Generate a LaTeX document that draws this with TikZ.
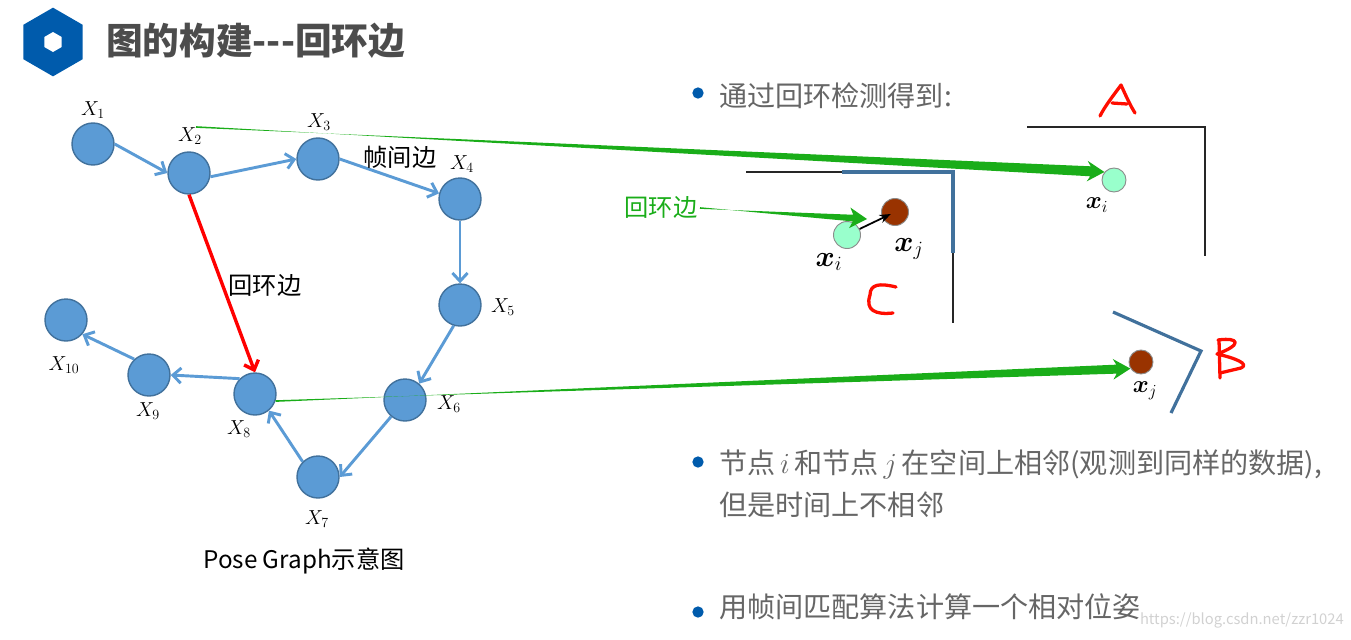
\documentclass[tikz,border=0pt]{standalone}
\usepackage[no-math]{fontspec}
\usepackage{amsmath}
\setmainfont{Noto Sans CJK SC}
\usepackage{xcolor}
\usepackage{tikz}
\usetikzlibrary{shapes.geometric, arrows.meta, positioning, calc}

\definecolor{nodeblue}{HTML}{5B9BD5}
\definecolor{nodeedge}{HTML}{41719C}
\definecolor{loopgreen}{HTML}{1AAD19}
\definecolor{wallblue}{HTML}{41719C}
\definecolor{logoblue}{HTML}{005BAC}
\definecolor{bodygray}{HTML}{666666}
\definecolor{seedgreen}{HTML}{99FFCC}
\definecolor{seedbrown}{HTML}{993300}

% thin at the start, thick at the tip: from, tip, half shaft width
\newcommand{\taperarrow}[3]{
  \coordinate (neck) at ($(#2)!0.42cm!(#1)$);
  \coordinate (barb) at ($(#2)!0.52cm!(#1)$);
  \fill[loopgreen] ($(#1)!0.025cm!90:(#2)$) -- ($(neck)!#3!-90:(#2)$) -- ($(barb)!0.31cm!-90:(#2)$) -- (#2)
    -- ($(barb)!0.31cm!90:(#2)$) -- ($(neck)!#3!90:(#2)$) -- ($(#1)!0.025cm!-90:(#2)$) -- cycle;
}

\begin{document}
\begin{tikzpicture}[
  x=0.03cm, y=-0.03cm,
  pose/.style={circle, draw=nodeedge, fill=nodeblue, line width=1.2pt, minimum size=1.26cm, inner sep=0pt},
  tag/.style={inner sep=0pt, font=\fontsize{17.5}{20}\selectfont},
  edge/.style={draw=nodeblue, line width=2.5pt, -{Straight Barb[length=7pt, width=13pt]}},
  loopedge/.style={draw=red, line width=2.9pt, -{Straight Barb[length=7pt, width=13pt]}},
  seed/.style={circle, draw=black!45, line width=0.8pt, inner sep=0pt},
  lbl/.style={inner sep=0pt, font=\fontsize{20.7}{24}\selectfont},
  bigx/.style={inner sep=0pt, font=\fontsize{26}{28}\selectfont},
  dot/.style={circle, fill=logoblue, minimum size=0.34cm, inner sep=0pt},
  bullet/.style={inner sep=0pt, text=bodygray, anchor=west, align=left,
                 font=\fontsize{24}{36}\selectfont},
  wall/.style={line width=1.7pt, black!85},
  bluewall/.style={line width=2.7pt, wallblue},
  hand/.style={red!90!orange, line width=2.8pt, line cap=round, line join=round}
]
\useasboundingbox (0,0) rectangle (1351,639);

% title
\node[regular polygon, regular polygon sides=6, regular polygon rotate=30, fill=logoblue,
      minimum size=2.06cm, inner sep=0pt] (logo) at (53,42) {};
\node[regular polygon, regular polygon sides=6, regular polygon rotate=30, fill=white,
      minimum size=0.6cm, inner sep=0pt] (logohole) at (logo) {};
\node[inner sep=0pt, anchor=west, text=black!70, font=\bfseries\fontsize{31.3}{36}\selectfont]
    (title) at (106,41) {图的构建-{}-{}-回环边};

% pose graph
\node[pose] (X1) at (93,144) {};
\node[pose] (X2) at (189,173) {};
\node[pose] (X3) at (318,159) {};
\node[pose] (X4) at (460,199) {};
\node[pose] (X5) at (460,305) {};
\node[pose] (X6) at (405,400) {};
\node[pose] (X7) at (318,477) {};
\node[pose] (X8) at (255,394) {};
\node[pose] (X9) at (149,375) {};
\node[pose] (X10) at (66,320) {};

\node[tag] (tag1) at (93,110) {$X_1$};
\node[tag] (tag2) at (190,136) {$X_2$};
\node[tag] (tag3) at (319,122) {$X_3$};
\node[tag] (tag4) at (462,164) {$X_4$};
\node[tag] (tag5) at (503,307) {$X_5$};
\node[tag] (tag6) at (449,404) {$X_6$};
\node[tag] (tag7) at (317,519) {$X_7$};
\node[tag] (tag8) at (239,429) {$X_8$};
\node[tag] (tag9) at (148,411) {$X_9$};
\node[tag] (tag10) at (64,365) {$X_{10}$};

\draw[edge] (X1.east) -- (X2.west);
\draw[edge] (X2.-10) -- (X3.west);
\draw[edge] (X3.east) -- (X4.165);
\draw[edge] (X4.south) -- (X5.north);
\draw[edge] (X5.-107) -- (X6.49);
\draw[edge] (X6.230) -- (X7.east);
\draw[edge] (X7.135) -- (X8.-50);
\draw[edge] (X8.135) -- (X9.east);
\draw[edge] (X9.133) -- (X10.-41);
\draw[loopedge] (X2.south) -- (X8.north);

\node[lbl] (frameedge) at (400,157) {帧间边};
\node[lbl] (loopedgetext) at (265,285) {回环边};
\node[lbl] (caption) at (304,561) {Pose Graph示意图};

% scene C
\draw[wall] (746,172) -- (842,172);
\draw[bluewall] (842,172) -- (953,172) -- (953,253);
\draw[wall] (953,253) -- (953,323);
\node[seed, fill=seedgreen, minimum size=0.81cm] (xiC) at (847,235) {};
\node[seed, fill=seedbrown, minimum size=0.81cm] (xjC) at (895,212) {};
\draw[-Stealth, line width=1.5pt, shorten >=-8pt] (xiC) -- (xjC);
\node[bigx] (xiCtext) at (829,262) {$\boldsymbol{x}_i$};
\node[bigx] (xjCtext) at (909,249) {$\boldsymbol{x}_j$};
\node[lbl, text=loopgreen] (loopgreentext) at (661,207) {回环边};
\coordinate (loopTip) at (867,219);

% scene A
\draw[wall] (1027,127) -- (1205,127) -- (1205,256);
\node[seed, fill=seedgreen, minimum size=0.72cm] (xiA) at (1114,180) {};
\node[bigx, font=\fontsize{22}{24}\selectfont] (xiAtext) at (1097,205) {$\boldsymbol{x}_i$};

% scene B
\draw[bluewall] (1113,312) -- (1201,351) -- (1171,413);
\node[seed, fill=seedbrown, minimum size=0.72cm] (xjB) at (1141,362) {};
\node[bigx, font=\fontsize{22}{24}\selectfont] (xjBtext) at (1145,391) {$\boldsymbol{x}_j$};

% handwritten letters
\draw[hand] (1100,116) .. controls (1105,106) and (1113,96) .. (1121,85)
   .. controls (1126,96) and (1130,105) .. (1135,113);
\draw[hand] (1112,103) -- (1127,104);
\draw[hand] (896,287) .. controls (880,283) and (870,284) .. (870,295)
   .. controls (865,310) and (875,315) .. (893,313);
\draw[hand] (1219,340) -- (1220,378);
\draw[hand] (1218,340) .. controls (1240,337) and (1242,345) .. (1217,354)
   .. controls (1235,358) and (1250,364) .. (1241,368) -- (1220,373);

% green arrows
\coordinate (loopStart) at (196,127);
\taperarrow{loopStart}{xiA.140}{0.15cm}
\taperarrow{X8.-19}{xjB.212}{0.135cm}
\coordinate (labelStart) at (700,208);
\taperarrow{labelStart}{loopTip}{0.1cm}

% bullets
\node[dot] (dot1) at (698,93) {};
\node[bullet, right=0.45cm of dot1, yshift=-2pt] (text1) {通过回环检测得到:};
\node[dot] (dot2) at (698,462) {};
\node[bullet, anchor=north west] (text2) at (719,449) {节点\,$i$\,和节点\,$j$\,在空间上相邻(观测到同样的数据),\\但是时间上不相邻};
\node[dot] (dot3) at (698,612) {};
\node[bullet] (text3) at (719,607) {用帧间匹配算法计算一个相对位姿};

\node[inner sep=0pt, anchor=east, text=black!18, font=\fontsize{12.6}{16}\selectfont]
    (mark) at (1344,620) {https://blog.csdn.net/zzr1024};
\end{tikzpicture}
\end{document}
